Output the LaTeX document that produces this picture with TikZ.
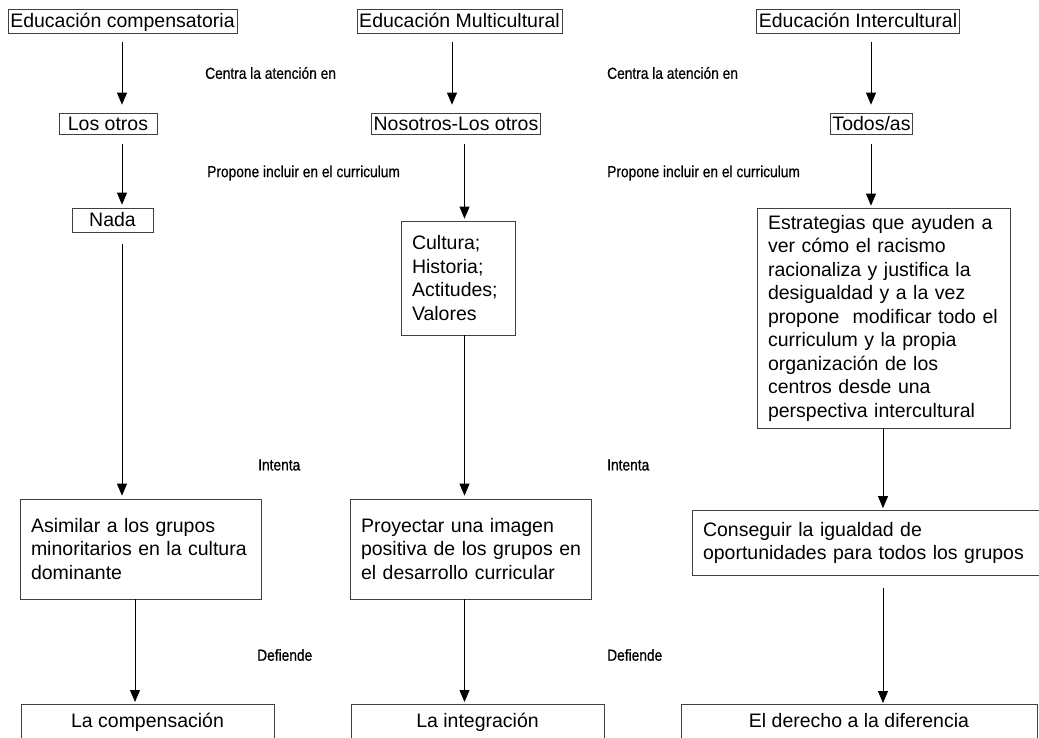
\documentclass[tikz,border=0pt]{standalone}
\usepackage{fontspec}
\setmainfont{Liberation Sans}
\newfontfamily\narrowfont[FakeStretch=0.86,FakeBold=0.6]{Liberation Sans}
\usetikzlibrary{arrows.meta}

\tikzset{
    box/.style={draw=black!75, line width=0.7pt, font=\fontsize{19.5}{23.5}\selectfont, inner ysep=0pt},
    onebox/.style={box, text height=16pt, text depth=3pt, inner xsep=2pt},
    textbox/.style={box, align=left, inner xsep=11pt},
    endbox/.style={box, anchor=north, align=center, text height=23pt, text depth=30pt},
    lbl/.style={anchor=west, font=\narrowfont\fontsize{16}{18}\selectfont, inner sep=0pt},
    arr/.style={line width=0.8pt, -{Triangle[length=12pt,width=10pt]}}
}

\begin{document}
\begin{tikzpicture}[x=1pt, y=-1pt]
        \useasboundingbox (0,0) rectangle (1039,737);

        \node[onebox, minimum width=229pt, minimum height=24pt] (tc) at (122.5,21) {Educación compensatoria};
        \node[onebox, minimum width=205pt, minimum height=24pt] (tm) at (459.5,21) {Educación Multicultural};
        \node[onebox, minimum width=202pt, minimum height=24pt] (ti) at (858,21) {Educación Intercultural};

        \node[onebox, minimum width=98pt, minimum height=21pt] (lo) at (108,123.5) {Los otros};
        \node[onebox, minimum width=168pt, minimum height=21pt] (no) at (456,123.5) {Nosotros-Los otros};
        \node[onebox, minimum width=81pt, minimum height=21pt] (todos) at (871.5,123.5) {Todos/as};

        \node[onebox, minimum width=81pt, minimum height=24pt] (nada) at (112.5,220) {Nada};
        \node[textbox, text width=92pt, minimum height=114pt] (cult) at (458,278) {Cultura;\\Historia;\\Actitudes;\\Valores};
        \node[textbox, text width=231pt, minimum height=220pt] (estr) at (883.5,318)
            {Estrategias que ayuden a\\ver cómo el racismo\\racionaliza y justifica la\\desigualdad y a la vez\\propone~ modificar todo el\\curriculum y la propia\\organización de los\\centros desde una\\perspectiva intercultural};

        \node[textbox, text width=219pt, minimum height=100pt] (asim) at (140.5,549) {Asimilar a los grupos\\minoritarios en la cultura\\dominante};
        \node[textbox, text width=219pt, minimum height=100pt] (proy) at (470.5,549) {Proyectar una imagen\\\mbox{positiva de los grupos en}\\el desarrollo curricular};
        \node[textbox, text width=338pt, minimum height=65pt] (cons) at (872,543) {Conseguir la igualdad de\\oportunidades para todos los grupos};

        \node[endbox, minimum width=253pt] (comp) at (147.5,704) {La compensación};
        \node[endbox, minimum width=253pt] (integ) at (477.5,704) {La integración};
        \node[endbox, minimum width=356pt] (der) at (859,704) {El derecho a la diferencia};

        \node[lbl] (cen1) at (205,73) {Centra la atención en};
        \node[lbl] (cen2) at (607,73) {Centra la atención en};
        \node[lbl] (pro1) at (207,173) {Propone incluir en el curriculum};
        \node[lbl] (pro2) at (607,173) {Propone incluir en el curriculum};
        \node[lbl] (int1) at (258,465) {Intenta};
        \node[lbl] (int2) at (607,465) {Intenta};
        \node[lbl] (def1) at (257,655) {Defiende};
        \node[lbl] (def2) at (607,655) {Defiende};

        \coordinate (a1) at (122,0);
        \coordinate (b1) at (135,0);
        \coordinate (a2) at (452,0);
        \coordinate (b2) at (464.5,0);
        \coordinate (a3) at (871,0);
        \coordinate (b3) at (883,0);

        \draw[arr, shorten <=9pt, shorten >=8pt] (tc.south -| a1) -- (lo.north -| a1);
        \draw[arr, shorten <=10pt, shorten >=3pt] (lo.south -| a1) -- (nada.north -| a1);
        \draw[arr, shorten <=12pt, shorten >=3pt] (nada.south -| a1) -- (asim.north -| a1);
        \draw[arr, shorten >=2pt] (asim.south -| b1) -- (comp.north -| b1);

        \draw[arr, shorten <=9pt, shorten >=8pt] (tm.south -| a2) -- (no.north -| a2);
        \draw[arr, shorten <=10pt, shorten >=2pt] (no.south -| b2) -- (cult.north -| b2);
        \draw[arr, shorten >=3pt] (cult.south -| b2) -- (proy.north -| b2);
        \draw[arr, shorten >=2pt] (proy.south -| b2) -- (integ.north -| b2);

        \draw[arr, shorten <=9pt, shorten >=8pt] (ti.south -| a3) -- (todos.north -| a3);
        \draw[arr, shorten <=10pt, shorten >=2pt] (todos.south -| a3) -- (estr.north -| a3);
        \draw[arr, shorten >=2pt] (estr.south -| b3) -- (cons.north -| b3);
        \draw[arr, shorten <=12pt, shorten >=1pt] (cons.south -| b3) -- (der.north -| b3);
\end{tikzpicture}
\end{document}
